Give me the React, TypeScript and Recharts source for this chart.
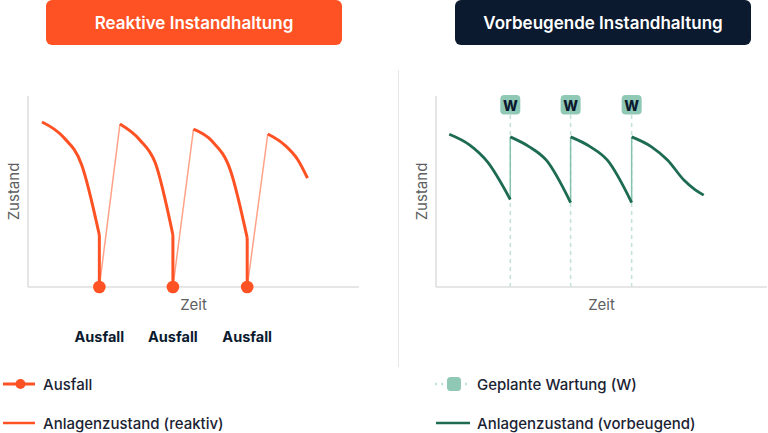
import { LineChart, Line, XAxis, YAxis, ReferenceLine, LabelList } from "recharts";

type Pt = { x: number; y: number };

const ORANGE = "#FF5224";
const ORANGE_LIGHT = "#FFA287";
const NAVY = "#0B1A2F";
const GREEN = "#1C6B52";
const GREEN_LIGHT = "#86C3AE";
const GREEN_DASH = "#C2E2D7";
const BADGE = "#8FC8B5";
const AXIS = "#DEDEDE";
const AXIS_TEXT = "#5F5F5F";
const FONT = "Inter, 'Noto Sans', sans-serif";

const X_DOMAIN: [number, number] = [0, 4.5];
const Y_DOMAIN: [number, number] = [0, 100];

// reaktiv: Verschleißkurven, Absturz, Reparatur
const reactiveDecay1: Pt[] = [
  { x: 0.19, y: 86.4 }, { x: 0.48, y: 78.5 }, { x: 0.73, y: 63.9 }, { x: 0.97, y: 27.2 },
];
const reactiveDecay2: Pt[] = [
  { x: 1.25, y: 85.3 }, { x: 1.52, y: 77 }, { x: 1.73, y: 65 }, { x: 1.97, y: 27.2 },
];
const reactiveDecay3: Pt[] = [
  { x: 2.25, y: 82.6 }, { x: 2.5, y: 76.4 }, { x: 2.75, y: 61.3 }, { x: 2.98, y: 25.7 },
];
const reactiveDecay4: Pt[] = [
  { x: 3.26, y: 80.1 }, { x: 3.49, y: 74.3 }, { x: 3.67, y: 66.5 }, { x: 3.8, y: 57 },
];
const reactiveDrops: Pt[][] = [
  [{ x: 0.97, y: 27.2 }, { x: 0.97, y: 0 }],
  [{ x: 1.97, y: 27.2 }, { x: 1.97, y: 0 }],
  [{ x: 2.98, y: 25.7 }, { x: 2.98, y: 0 }],
];
const reactiveRepairs: Pt[][] = [
  [{ x: 0.97, y: 0 }, { x: 1.25, y: 85.3 }],
  [{ x: 1.97, y: 0 }, { x: 2.25, y: 82.6 }],
  [{ x: 2.98, y: 0 }, { x: 3.26, y: 80.1 }],
];
const failures = [
  { x: 0.97, y: 0, label: "Ausfall" },
  { x: 1.97, y: 0, label: "Ausfall" },
  { x: 2.98, y: 0, label: "Ausfall" },
];

// vorbeugend
const preventiveDecay1: Pt[] = [
  { x: 0.18, y: 80 }, { x: 0.46, y: 74.3 }, { x: 0.7, y: 65.5 }, { x: 1.01, y: 45.8 },
];
const preventiveDecay2: Pt[] = [
  { x: 1.01, y: 78.6 }, { x: 1.27, y: 73.4 }, { x: 1.5, y: 66.4 }, { x: 1.83, y: 44.2 },
];
const preventiveDecay3: Pt[] = [
  { x: 1.83, y: 78.6 }, { x: 2.1, y: 73.4 }, { x: 2.33, y: 66.4 }, { x: 2.66, y: 44.2 },
];
const preventiveDecay4: Pt[] = [
  { x: 2.66, y: 78.6 }, { x: 2.93, y: 73.4 }, { x: 3.15, y: 66.4 }, { x: 3.37, y: 56 },
  { x: 3.52, y: 51 }, { x: 3.64, y: 48.1 },
];
const maintenanceAt = [1.01, 1.83, 2.66];
const maintenanceJumps: Pt[][] = [
  [{ x: 1.01, y: 45.8 }, { x: 1.01, y: 78.6 }],
  [{ x: 1.83, y: 44.2 }, { x: 1.83, y: 78.6 }],
  [{ x: 2.66, y: 44.2 }, { x: 2.66, y: 78.6 }],
];

const axisLine = { stroke: AXIS, strokeWidth: 1.5 };
const axisLabelStyle = { fill: AXIS_TEXT, fontSize: 15, fontFamily: FONT };

function Badge(props: any) {
  const vb = props.viewBox || {};
  const x = vb.x ?? 0;
  const y = vb.y ?? 0;
  return (
    <g>
      <rect x={x - 10} y={y - 1} width={20} height={19.5} rx={4} fill={BADGE} />
      <text x={x} y={y + 9} textAnchor="middle" dominantBaseline="central" fill={NAVY}
        fontSize={14} fontWeight={800} fontFamily={FONT}>W</text>
    </g>
  );
}

function ReactiveChart() {
  const decays = [reactiveDecay1, reactiveDecay2, reactiveDecay3, reactiveDecay4];
  return (
    <LineChart width={380} height={360} margin={{ top: 96, right: 21, bottom: 37, left: 0 }}>
      <XAxis type="number" dataKey="x" domain={X_DOMAIN} height={36} tick={false} tickLine={false}
        axisLine={axisLine} label={{ value: "Zeit", position: "center", style: axisLabelStyle }} />
      <YAxis type="number" dataKey="y" domain={Y_DOMAIN} width={28} tick={false} tickLine={false}
        axisLine={axisLine} label={{ value: "Zustand", angle: -90, position: "center", style: axisLabelStyle }} />
      {reactiveRepairs.map((d, i) => (
        <Line key={"r" + i} data={d} dataKey="y" type="linear" stroke={ORANGE_LIGHT} strokeWidth={1.5}
          dot={false} activeDot={false} isAnimationActive={false} />
      ))}
      {decays.map((d, i) => (
        <Line key={"c" + i} data={d} dataKey="y" type="monotone" stroke={ORANGE} strokeWidth={3}
          dot={false} activeDot={false} isAnimationActive={false} />
      ))}
      {reactiveDrops.map((d, i) => (
        <Line key={"d" + i} data={d} dataKey="y" type="linear" stroke={ORANGE} strokeWidth={3}
          dot={false} activeDot={false} isAnimationActive={false} />
      ))}
      <Line data={failures} dataKey="y" stroke="none" isAnimationActive={false} activeDot={false}
        dot={{ r: 6.3, fill: ORANGE, stroke: "none" }}>
        <LabelList dataKey="label" position="bottom" offset={45}
          style={{ fill: NAVY, fontSize: 14.5, fontWeight: 700, fontFamily: FONT }} />
      </Line>
    </LineChart>
  );
}

function PreventiveChart() {
  const decays = [preventiveDecay1, preventiveDecay2, preventiveDecay3, preventiveDecay4];
  return (
    <LineChart width={360} height={360} margin={{ top: 96, right: 1, bottom: 37, left: 0 }}>
      <XAxis type="number" dataKey="x" domain={X_DOMAIN} height={36} tick={false} tickLine={false}
        axisLine={axisLine} label={{ value: "Zeit", position: "center", style: axisLabelStyle }} />
      <YAxis type="number" dataKey="y" domain={Y_DOMAIN} width={28} tick={false} tickLine={false}
        axisLine={axisLine} label={{ value: "Zustand", angle: -90, position: "center", style: axisLabelStyle }} />
      {maintenanceAt.map((m) => (
        <ReferenceLine key={m} x={m} stroke={GREEN_DASH} strokeWidth={1.5} strokeDasharray="4 4"
          label={(p: any) => <Badge {...p} />} />
      ))}
      {maintenanceJumps.map((d, i) => (
        <Line key={"j" + i} data={d} dataKey="y" type="linear" stroke={GREEN_LIGHT} strokeWidth={1.5}
          dot={false} activeDot={false} isAnimationActive={false} />
      ))}
      {decays.map((d, i) => (
        <Line key={"c" + i} data={d} dataKey="y" type="monotone" stroke={GREEN} strokeWidth={2.8}
          dot={false} activeDot={false} isAnimationActive={false} />
      ))}
    </LineChart>
  );
}

function LegendItem({ icon, text, left, top }: { icon: any; text: string; left: number; top: number }) {
  return (
    <div style={{ position: "absolute", left, top, display: "flex", alignItems: "center", height: 20 }}>
      {icon}
      <span style={{ marginLeft: 7, fontSize: 15, fontWeight: 500, color: "#1B2333", whiteSpace: "nowrap" }}>{text}</span>
    </div>
  );
}

const headerStyle = {
  position: "absolute" as const,
  top: 0,
  height: 45,
  width: 296,
  borderRadius: 6,
  color: "#fff",
  fontSize: 17,
  fontWeight: 600,
  display: "flex",
  alignItems: "center",
  justifyContent: "center",
};

export default function App() {
  return (
    <div style={{ position: "absolute", left: 0, top: 0, width: 768, height: 433, background: "#fff", fontFamily: FONT, overflow: "hidden" }}>
      <div style={{ ...headerStyle, left: 46, background: ORANGE }}>Reaktive Instandhaltung</div>
      <div style={{ ...headerStyle, left: 455, background: NAVY }}>Vorbeugende Instandhaltung</div>
      <div style={{ position: "absolute", left: 397.5, top: 70, width: 1.5, height: 297, background: "#E6E6E6" }} />
      <div style={{ position: "absolute", left: 0, top: 0 }}>
        <ReactiveChart />
      </div>
      <div style={{ position: "absolute", left: 408, top: 0 }}>
        <PreventiveChart />
      </div>
      <LegendItem left={2} top={374} text="Ausfall" icon={
        <svg width={34} height={14}>
          <line x1={1} y1={7} x2={33} y2={7} stroke={ORANGE} strokeWidth={3} />
          <circle cx={18.5} cy={7} r={5} fill={ORANGE} />
        </svg>
      } />
      <LegendItem left={2} top={413} text="Anlagenzustand (reaktiv)" icon={
        <svg width={34} height={14}>
          <line x1={1} y1={7} x2={33} y2={7} stroke={ORANGE} strokeWidth={2.5} />
        </svg>
      } />
      <LegendItem left={434} top={374} text="Geplante Wartung (W)" icon={
        <svg width={36} height={16}>
          <line x1={1} y1={8} x2={35} y2={8} stroke={GREEN_DASH} strokeWidth={2.5} strokeDasharray="2 4" />
          <rect x={13} y={1} width={14} height={14} rx={3.5} fill={BADGE} />
        </svg>
      } />
      <LegendItem left={434} top={413} text="Anlagenzustand (vorbeugend)" icon={
        <svg width={36} height={14}>
          <line x1={2} y1={7} x2={36} y2={7} stroke={GREEN} strokeWidth={2.5} />
        </svg>
      } />
    </div>
  );
}
